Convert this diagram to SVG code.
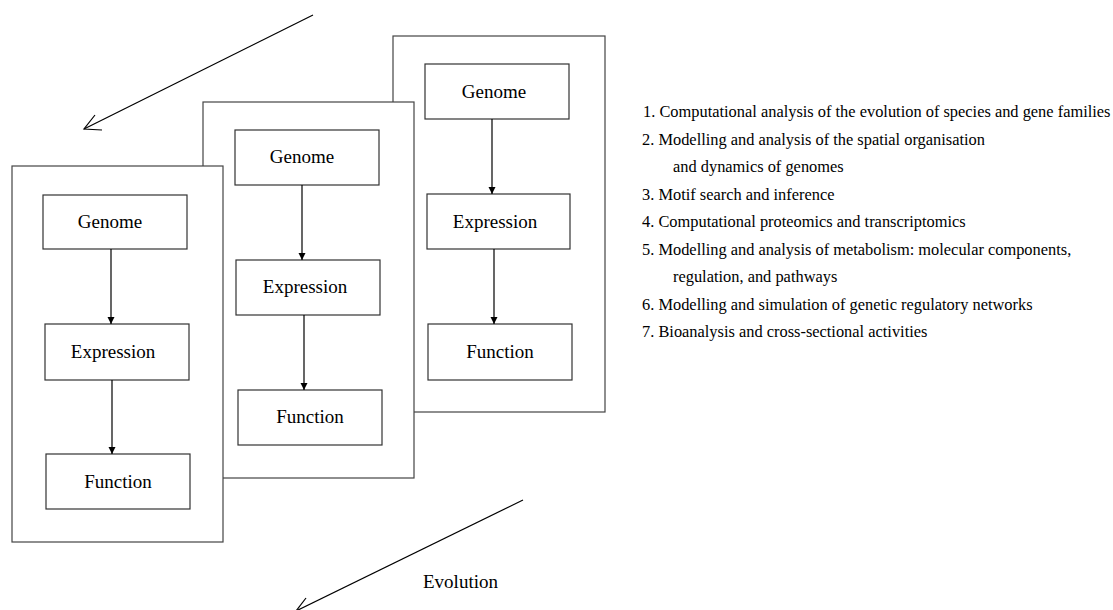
<svg xmlns="http://www.w3.org/2000/svg" width="1113" height="610" viewBox="0 0 1113 610">
<style>
.frame{fill:#fff;stroke:#444;stroke-width:1.2}
.box{fill:#fff;stroke:#333;stroke-width:1.2}
.lbl{font-family:"Liberation Serif","Times New Roman",serif;font-size:19px;fill:#000;text-anchor:middle}
.item{font-family:"Liberation Serif","Times New Roman",serif;font-size:16.4px;fill:#000}
.evo{font-family:"Liberation Serif","Times New Roman",serif;font-size:19px;fill:#000}
.edge{stroke:#000;stroke-width:1.2;fill:none}
.big{stroke:#000;stroke-width:1.2;fill:none}
</style>
<defs>
<marker id="ah" viewBox="0 0 10 10" refX="10" refY="5" markerWidth="7" markerHeight="11" markerUnits="userSpaceOnUse" orient="auto">
<path d="M0,0 L10,5 L0,10 Z" fill="#000"/>
</marker>
</defs>
<g id="frame3">
<rect class="frame" x="393" y="36" width="212" height="376"/>
<g id="f3-genome"><rect class="box" x="425" y="64" width="144" height="55"/><text class="lbl" x="494" y="98">Genome</text></g>
<g id="f3-expression"><rect class="box" x="427" y="194" width="143" height="55"/><text class="lbl" x="495" y="228">Expression</text></g>
<g id="f3-function"><rect class="box" x="428" y="324" width="144" height="56"/><text class="lbl" x="500" y="358">Function</text></g>
</g>
<g id="frame2">
<rect class="frame" x="203" y="102" width="211" height="376"/>
<g id="f2-genome"><rect class="box" x="235" y="130" width="144" height="55"/><text class="lbl" x="302" y="163">Genome</text></g>
<g id="f2-expression"><rect class="box" x="236" y="260" width="144" height="55"/><text class="lbl" x="305" y="293">Expression</text></g>
<g id="f2-function"><rect class="box" x="238" y="390" width="144" height="55"/><text class="lbl" x="310" y="423">Function</text></g>
</g>
<g id="frame1">
<rect class="frame" x="12" y="166" width="211" height="376"/>
<g id="f1-genome"><rect class="box" x="43" y="195" width="144" height="54"/><text class="lbl" x="110" y="228">Genome</text></g>
<g id="f1-expression"><rect class="box" x="45" y="324" width="144" height="56"/><text class="lbl" x="113" y="358">Expression</text></g>
<g id="f1-function"><rect class="box" x="46" y="454" width="144" height="55"/><text class="lbl" x="118" y="488">Function</text></g>
</g>
<g id="connectors">
<line class="edge" x1="111" y1="249" x2="111" y2="324" marker-end="url(#ah)"/>
<line class="edge" x1="112" y1="380" x2="112" y2="454" marker-end="url(#ah)"/>
<line class="edge" x1="302" y1="185" x2="302" y2="260" marker-end="url(#ah)"/>
<line class="edge" x1="304" y1="315" x2="304" y2="390" marker-end="url(#ah)"/>
<line class="edge" x1="492" y1="119" x2="492" y2="194" marker-end="url(#ah)"/>
<line class="edge" x1="494" y1="249" x2="494" y2="324" marker-end="url(#ah)"/>
<g id="evolution-arrow-top">
<line class="big" x1="313" y1="15" x2="84" y2="129"/>
<polyline class="big" points="95,115 84,129 102,130"/>
</g>
<g id="evolution-arrow-bottom">
<line class="big" x1="523" y1="500" x2="296" y2="611"/>
<polyline class="big" points="306,598 296,611"/>
</g>
</g>
<text class="evo" x="423" y="588">Evolution</text>
<g id="list">
<text class="item" x="643" y="117">1. Computational analysis of the evolution of species and gene families</text>
<text class="item" x="642" y="145">2. Modelling and analysis of the spatial organisation</text>
<text class="item" x="673" y="172">and dynamics of genomes</text>
<text class="item" x="642" y="200">3. Motif search and inference</text>
<text class="item" x="642" y="227">4. Computational proteomics and transcriptomics</text>
<text class="item" x="642" y="255">5. Modelling and analysis of metabolism: molecular components,</text>
<text class="item" x="673" y="282">regulation, and pathways</text>
<text class="item" x="642" y="310">6. Modelling and simulation of genetic regulatory networks</text>
<text class="item" x="642" y="337">7. Bioanalysis and cross-sectional activities</text>
</g>
</svg>
